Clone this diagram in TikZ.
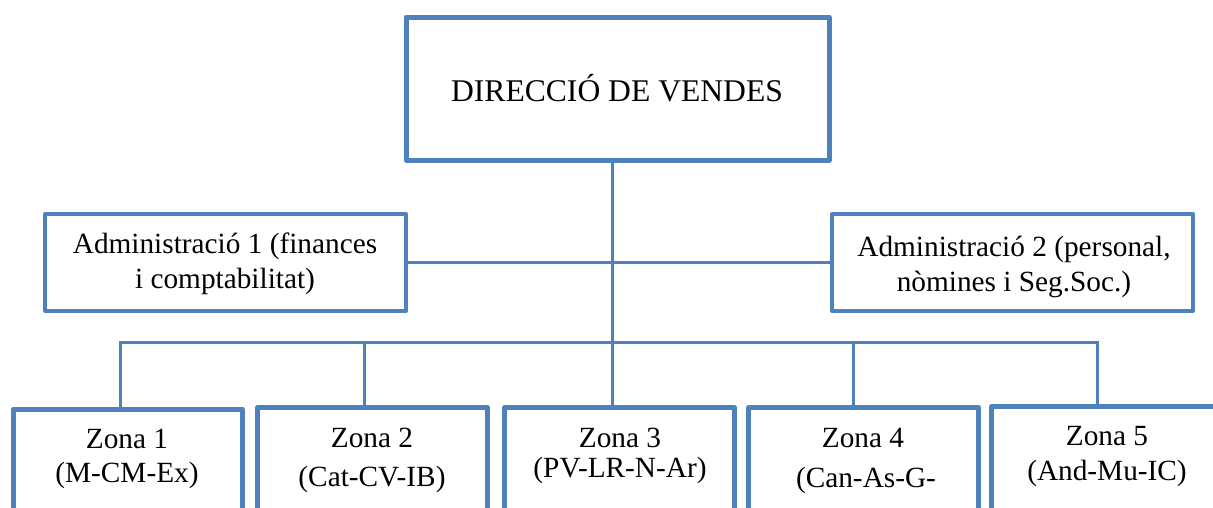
\documentclass[tikz,border=0pt]{standalone}
\usepackage{fontspec}
\setmainfont{Liberation Serif}
\definecolor{ofblue}{HTML}{4F81BD}
\begin{document}
\begin{tikzpicture}[x=1pt,y=-1pt,
  box/.style={draw=ofblue,line width=5pt,line join=round,rectangle,inner sep=0pt,outer sep=0pt},
  abox/.style={box,line width=4pt,minimum width=361pt,minimum height=97pt},
  zbox/.style={box,minimum width=230pt,minimum height=153pt},
  conn/.style={draw=ofblue,line width=3pt},
  txt/.style={inner sep=0pt,anchor=base,font=\fontsize{29.3}{34}\selectfont},
  ttxt/.style={inner sep=0pt,anchor=base,font=\fontsize{31.6}{36}\selectfont}]
\useasboundingbox (0,0) rectangle (1213,507);
\clip (0,0) rectangle (1213,507);
% boxes
\node[box,minimum width=423pt,minimum height=143pt] (top) at (617.5,88.5) {};
\node[abox] (a1) at (225.5,262.5) {};
\node[abox] (a2) at (1012.5,262.5) {};
\node[zbox,minimum width=229pt] (z1) at (127.5,485.5) {};
\node[zbox] (z2) at (372.5,484) {};
\node[zbox] (z3) at (619.5,484) {};
\node[zbox] (z4) at (863.5,484) {};
\node[zbox] (z5) at (1106.5,483) {};
% connectors
\coordinate (b1) at (120,342);
\coordinate (b2) at (364,342);
\coordinate (b3) at (612,342);
\coordinate (b4) at (853,342);
\coordinate (b5) at (1097,342);
\draw[conn] (a1.east) -- (a2.west);
\draw[conn] (top.south -| b3) -- (b3) -- (b3 |- z3.north);
\draw[conn,line join=miter] (b1 |- z1.north) -- (b1) -- (b5) -- (b5 |- z5.north);
\draw[conn] (b2) -- (b2 |- z2.north);
\draw[conn] (b4) -- (b4 |- z4.north);
% texts
\node[ttxt] (tt) at (617,101) {DIRECCIÓ DE VENDES};
\node[txt] (a1l1) at (225,253) {Administració 1 (finances};
\node[txt] (a1l2) at (225,288) {i comptabilitat)};
\node[txt] (a2l1) at (1014,256) {Administració 2 (personal,};
\node[txt] (a2l2) at (1014,291) {nòmines i Seg.Soc.)};
\node[txt] (z1l1) at (127,448) {Zona 1};
\node[txt] (z1l2) at (127,482) {(M-CM-Ex)};
\node[txt] (z2l1) at (372,447) {Zona 2};
\node[txt] (z2l2) at (372,486) {(Cat-CV-IB)};
\node[txt] (z3l1) at (620,447) {Zona 3};
\node[txt] (z3l2) at (620,477) {(PV-LR-N-Ar)};
\node[txt] (z4l1) at (863,447) {Zona 4};
\node[txt] (z4l2) at (866,487) {(Can-As-G-};
\node[txt] (z5l1) at (1107,445) {Zona 5};
\node[txt] (z5l2) at (1107,480) {(And-Mu-IC)};
\end{tikzpicture}
\end{document}
